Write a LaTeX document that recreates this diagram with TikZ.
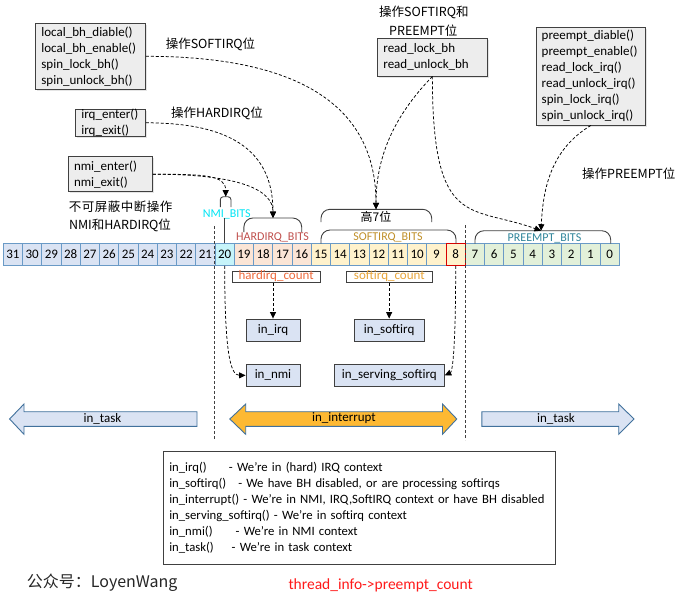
\documentclass[tikz,border=0pt]{standalone}
\usepackage{fontspec}
\setmainfont{Carlito}
\newfontfamily\cjk{Noto Sans CJK SC}
\usetikzlibrary{arrows.meta,shadows}
\definecolor{cblue}{HTML}{DAE3F3}
\definecolor{ccyan}{HTML}{C6F4FA}
\definecolor{csalmon}{HTML}{FBE5D6}
\definecolor{cyellow}{HTML}{FFF2CC}
\definecolor{cgreen}{HTML}{E2F0D9}
\definecolor{cellborder}{HTML}{6A9AC6}
\definecolor{boxgray}{HTML}{EDEDED}
\definecolor{dark}{HTML}{404040}
\definecolor{hardc}{HTML}{C0504D}
\definecolor{hardcnt}{HTML}{EE6A3C}
\definecolor{softc}{HTML}{C0902A}
\definecolor{softcnt}{HTML}{E8A53A}
\definecolor{preemptc}{HTML}{31869B}
\definecolor{nmic}{HTML}{00E5F5}
\definecolor{intfill}{HTML}{FDB933}
\definecolor{arrowborder}{HTML}{41719C}
\definecolor{redtxt}{HTML}{FF1A1A}
\tikzset{
  graybox/.style={draw=dark, fill=boxgray, line width=0.9pt, inner xsep=5.7pt, inner ysep=0pt,
    align=left, font=\fontsize{13}{16}\selectfont,
    drop shadow={shadow xshift=1.5pt, shadow yshift=-1.5pt, fill=black!20}},
  cjklabel/.style={font=\cjk\fontsize{12.5}{15}\selectfont, inner sep=0pt},
  cell/.style={draw=cellborder, line width=0.8pt, minimum width=19.25pt, minimum height=22pt,
    inner sep=0pt, font=\fontsize{13}{15}\selectfont},
  bracket/.style={draw=dark, line width=0.9pt, rounded corners=9pt},
  bitlabel/.style={font=\fontsize{12}{14}\selectfont, inner sep=0pt},
  cntbox/.style={draw=dark, line width=0.8pt, fill=white, inner sep=0pt, minimum height=11pt,
    text height=8pt, text depth=2.5pt, font=\fontsize{13}{15}\selectfont},
  ctxbox/.style={draw=dark, line width=0.9pt, fill=cblue, minimum height=22.7pt, inner sep=0pt,
    font=\fontsize{13}{15}\selectfont},
  conn/.style={draw=black, line width=0.75pt, dash pattern=on 3pt off 2pt,
    -{Triangle[length=6.5pt,width=6pt]}},
  sep/.style={draw=dark, line width=0.8pt, dash pattern=on 2.5pt off 2.5pt},
  bigarrow/.style={draw=arrowborder, line width=0.9pt},
  arrowtext/.style={font=\fontsize{13}{15}\selectfont, inner sep=0pt}
}
\begin{document}
\begin{tikzpicture}[x=1pt,y=-1pt]
\useasboundingbox (0,0) rectangle (682,603);
\fill[white] (0,0) rectangle (682,603);

% top boxes
\node[graybox, minimum width=109.6pt, minimum height=66pt, text width=98.2pt] (b1) at (90.5,56.3)
  {local\_bh\_diable()\\local\_bh\_enable()\\spin\_lock\_bh()\\spin\_unlock\_bh()};
\node[graybox, minimum width=69.6pt, minimum height=27pt, text width=58.2pt,
  font=\fontsize{13}{15.4}\selectfont] (b2) at (110.5,122.8)
  {irq\_enter()\\irq\_exit()};
\node[graybox, minimum width=84pt, minimum height=35pt, text width=72.6pt] (b3) at (110.3,174.2)
  {nmi\_enter()\\nmi\_exit()};
\node[graybox, minimum width=109.3pt, minimum height=37.7pt, text width=97.9pt] (b4) at (432.35,57.15)
  {read\_lock\_bh\\read\_unlock\_bh};
\node[graybox, minimum width=109.7pt, minimum height=97.7pt, text width=98.3pt] (b5) at (590.85,76.15)
  {preempt\_diable()\\preempt\_enable()\\read\_lock\_irq()\\read\_unlock\_irq()\\spin\_lock\_irq()\\spin\_unlock\_irq()};

% labels
\node[cjklabel] (l1) at (210.5,44) {操作SOFTIRQ位};
\node[cjklabel] (l2) at (217,113.3) {操作HARDIRQ位};
\node[cjklabel, font=\cjk\fontsize{12.5}{15}\selectfont\addfontfeature{LetterSpace=4}] (l3) at (120.6,206.7) {不可屏蔽中断操作};
\node[cjklabel] (l4) at (120,225) {NMI和HARDIRQ位};
\node[cjklabel] (l5) at (423.8,12.7) {操作SOFTIRQ和};
\node[cjklabel] (l6) at (423.3,30.7) {PREEMPT位};
\node[cjklabel] (l7) at (628.8,174) {操作PREEMPT位};

% bit cells
\foreach \b in {21,...,31} \node[cell, fill=cblue] (c\b) at ({3.3+(31-\b)*19.25+9.625},254.5) {\b};
\node[cell, fill=ccyan] (c20) at ({3.3+11*19.25+9.625},254.5) {20};
\foreach \b in {16,...,19} \node[cell, fill=csalmon] (c\b) at ({3.3+(31-\b)*19.25+9.625},254.5) {\b};
\foreach \b in {9,...,15} \node[cell, fill=cyellow] (c\b) at ({3.3+(31-\b)*19.25+9.625},254.5) {\b};
\foreach \b in {0,...,7} \node[cell, fill=cgreen] (c\b) at ({3.3+(31-\b)*19.25+9.625},254.5) {\b};
\node[cell, fill=cyellow, draw=red!85!black] (c8) at ({3.3+23*19.25+9.625},254.5) {8};

% brackets
\draw[bracket] (243.9,232) -- (243.9,218) -- (301.7,218) -- (301.7,232);
\node[bitlabel, text=hardc] (hb) at (272.5,237.5) {HARDIRQ\_BITS};
\draw[bracket] (321,222) -- (321,209.3) -- (431.7,209.3) -- (431.7,222);
\node[cjklabel, font=\cjk\fontsize{12}{14}\selectfont] (h7) at (376,216.5) {高7位};
\draw[bracket] (321,243.5) -- (321,230) -- (456,230) -- (456,243.5);
\node[bitlabel, text=softc] (sb) at (388,237.5) {SOFTIRQ\_BITS};
\draw[bracket] (475,243.5) -- (475,230.7) -- (610.7,230.7) -- (610.7,243.5);
\node[bitlabel, text=preemptc] (pb) at (544.5,238) {PREEMPT\_BITS};
\draw[bracket, rounded corners=3pt] (220.3,207) -- (220.3,196.7) -- (231,196.7) -- (231,207);
\node[bitlabel, text=nmic] (nb) at (226.7,214.3) {NMI\_BITS};
\draw[dark, line width=0.8pt] (c20.north) -- ++(0,-25);

\coordinate (t7) at (376,209.3);
\coordinate (thard) at (273,218);
\coordinate (tnmi) at (225.7,196.7);
\coordinate (tpre) at (541,230.7);

% separators
\draw[sep] (c20.west |- 0,226) -- (c20.west |- 0,440);
\draw[sep] (c8.east |- 0,225) -- (c8.east |- 0,440);

% counters and context boxes
\node[cntbox, text=hardcnt, minimum width=87.7pt] (hc) at (276.15,277.2) {hardirq\_count};
\node[cntbox, text=softcnt, minimum width=85.3pt] (sc) at (389.35,277.2) {softirq\_count};
\node[ctxbox, minimum width=54pt] (ir) at (273,330.35) {in\_irq};
\node[ctxbox, minimum width=69.7pt] (sf) at (389.15,330.35) {in\_softirq};
\node[ctxbox, minimum width=54pt] (nm) at (273,375.35) {in\_nmi};
\node[ctxbox, minimum width=110pt] (ss) at (389.3,375.35) {in\_serving\_softirq};

% connectors
\draw[conn] (b1.east) .. controls (320,56.3) and (376,120) .. (t7);
\draw[conn] (b4.south) .. controls (400,110) and (376,150) .. (t7);
\draw[conn] (b4.south) .. controls (432.5,230) and (470,205) .. (tpre);
\draw[conn] (b5.south) .. controls (550,150) and (543,190) .. (tpre);
\draw[conn] (b2.east) .. controls (230,122.8) and (273,150) .. (thard);
\draw[conn] (b3.east) .. controls (205,174.2) and (225.7,175) .. (tnmi);
\draw[conn] (b3.east) .. controls (240,174.2) and (273,190) .. (thard);
\draw[conn] (hc.south -| ir.north) -- (ir.north);
\draw[conn] (sc.south -| sf.north) -- (sf.north);
\draw[conn] (c20.south) .. controls (224.7,350) and (230,375.35) .. (nm.west);
\draw[conn] (c8.south) .. controls (455.7,355) and (452,372) .. (ss.east);

% big arrows
\draw[bigarrow, fill=cblue] (9.6,419) -- (24,404) -- (24,411.7) -- (197,411.7) -- (197,426.3)
  -- (24,426.3) -- (24,434.3) -- cycle;
\node[arrowtext] (tl) at (102.5,418.5) {in\_task};
\draw[bigarrow, fill=intfill] (229.8,419) -- (245.7,404) -- (245.7,411.7) -- (442.5,411.7) -- (442.5,404)
  -- (456.8,419) -- (442.5,434.3) -- (442.5,426.3) -- (245.7,426.3) -- (245.7,434.3) -- cycle;
\node[arrowtext] (ti) at (344,418.5) {in\_interrupt};
\draw[bigarrow, fill=cblue] (481.8,411.7) -- (618.7,411.7) -- (618.7,404) -- (634,419) -- (618.7,434.3)
  -- (618.7,426.3) -- (481.8,426.3) -- cycle;
\node[arrowtext] (tr) at (556,418.5) {in\_task};

% legend
\node[draw=dark, line width=0.8pt, fill=white, minimum width=392.4pt, minimum height=112.3pt,
  text width=380.4pt, align=left, inner xsep=6pt, inner ysep=0pt,
  font=\fontsize{12.7}{15.9}\selectfont] (lg) at (359.5,507.85)
  {\makebox[59.7pt][l]{in\_irq()}- We're in (hard) IRQ context\\
   \makebox[69pt][l]{in\_softirq()}- We have BH disabled, or are processing softirqs\\
   in\_interrupt() - We're in NMI, IRQ,SoftIRQ context or have BH disabled\\
   in\_serving\_softirq() - We're in softirq context\\
   \makebox[66.4pt][l]{in\_nmi()}- We're in NMI context\\
   \makebox[62.4pt][l]{in\_task()}- We're in task context};

% footer
\node[anchor=west, inner sep=0pt, font=\cjk\fontsize{16}{18}\selectfont, text=black!85] (wx) at (26.7,582.7) {公众号：LoyenWang};
\node[anchor=west, inner sep=0pt, font=\fontsize{15.5}{18}\selectfont, text=redtxt] (pc) at (288.3,585) {thread\_info->preempt\_count};
\end{tikzpicture}
\end{document}
